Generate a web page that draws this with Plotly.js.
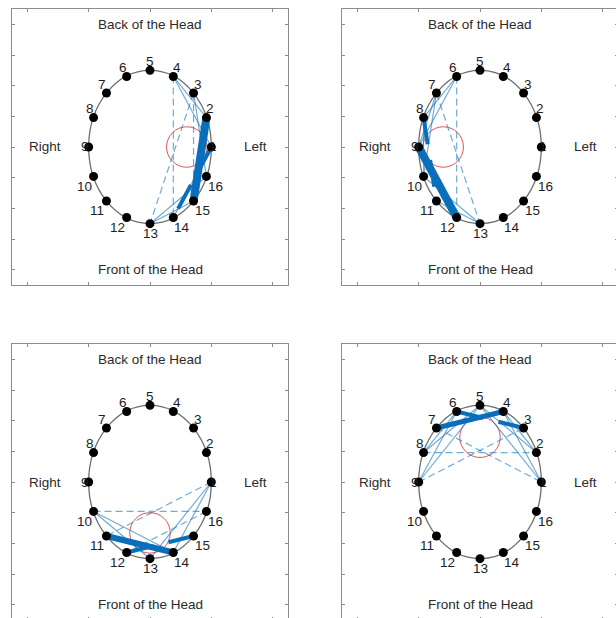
<!DOCTYPE html>
<html>
<head>
<meta charset="utf-8">
<script src="https://cdn.plot.ly/plotly-3.0.1.min.js"></script>
<style>
  html, body { margin: 0; padding: 0; overflow: hidden; background: #fff; }
  #chart { width: 624px; height: 624px; }
</style>
</head>
<body>
<div id="chart"></div>
<script>
// ---- electrode layout ----
const elecLabels = ['1','2','3','4','5','6','7','8','9','10','11','12','13','14','15','16'];
const elecX = [1.00, 0.92, 0.71, 0.38, 0.00, -0.38, -0.71, -0.92, -1.00, -0.92, -0.71, -0.38, 0.00, 0.38, 0.71, 0.92];
const elecY = [0.00, 0.48, 0.88, 1.15, 1.25, 1.15, 0.88, 0.48, 0.00, -0.48, -0.88, -1.15, -1.25, -1.15, -0.88, -0.48];

// ---- connections per panel: from, to, strength, sign (+ solid, - dashed) ----
const p1From   = [4, 4, 3, 13, 13, 14, 4, 3, 3, 1, 2];
const p1To     = [2, 1, 16, 15, 16, 1, 14, 13, 15, 14, 15];
const p1Weight = [1, 1, 1, 1, 1, 1, 1, 1, 1, 4, 8];
const p1Sign   = ['+','+','+','+','+','+','-','-','-','-','+'];

const p2From   = [6, 6, 7, 7, 8, 13, 13, 6, 7, 8, 9];
const p2To     = [8, 9, 9, 10, 10, 10, 11, 12, 13, 11, 12];
const p2Weight = [1, 1, 1, 1, 1, 1, 1, 1, 1, 4, 8];
const p2Sign   = ['+','+','+','+','+','+','+','-','-','-','+'];

const p3From   = [10, 10, 1, 1, 10, 1, 16, 11, 12];
const p3To     = [13, 14, 14, 13, 16, 11, 12, 14, 15];
const p3Weight = [1, 1, 1, 1, 1, 1, 1, 6, 4];
const p3Sign   = ['+','+','+','+','-','-','-','+','-'];

const p4From   = [6, 6, 5, 5, 4, 4, 5, 5, 9, 7, 8, 6, 7];
const p4To     = [9, 8, 9, 8, 1, 2, 1, 2, 3, 1, 2, 3, 4];
const p4Weight = [1, 1, 1, 1, 1, 1, 1, 1, 1, 1, 1, 4, 5];
const p4Sign   = ['+','+','+','+','+','+','+','+','-','-','-','-','+'];

// centre of the connections (red circle) per panel
const centerX = [0.60, -0.60, 0.00, 0.00];
const centerY = [0.00, 0.00, -0.83, 0.73];
const centerR = [0.33, 0.33, 0.33, 0.33];

// ---- text ----
const topText = 'Back of the Head';
const bottomText = 'Front of the Head';
const rightText = 'Right';
const leftText = 'Left';

const panels = [
  {from: p1From, to: p1To, w: p1Weight, s: p1Sign},
  {from: p2From, to: p2To, w: p2Weight, s: p2Sign},
  {from: p3From, to: p3To, w: p3Weight, s: p3Sign},
  {from: p4From, to: p4To, w: p4Weight, s: p4Sign}
];

const W = 624, H = 624;
const xDomains = [[12/W, 288/W], [342/W, 618/W], [12/W, 288/W], [342/W, 618/W]];
const yDomains = [[1-285/H, 1-9/H], [1-285/H, 1-9/H], [1-620/H, 1-344/H], [1-620/H, 1-344/H]];

const traces = [];
const shapes = [];
const annotations = [];
const layout = {
  width: W, height: H,
  margin: {l: 0, r: 0, t: 0, b: 0},
  paper_bgcolor: '#ffffff',
  plot_bgcolor: '#ffffff',
  showlegend: false,
  font: {family: 'Liberation Sans, Arial, sans-serif', color: '#2a2a2a'}
};

const axisBase = {
  range: [-2.25, 2.25],
  showgrid: false, zeroline: false, showticklabels: false,
  ticks: 'inside', ticklen: 3, tickcolor: '#8c8c8c', tickwidth: 1,
  showline: true, linecolor: '#8c8c8c', linewidth: 1, mirror: 'ticks',
  fixedrange: true
};

panels.forEach((p, i) => {
  const n = i + 1;
  const xa = n === 1 ? 'x' : 'x' + n;
  const ya = n === 1 ? 'y' : 'y' + n;
  layout[n === 1 ? 'xaxis' : 'xaxis' + n] = Object.assign({}, axisBase, {domain: xDomains[i], anchor: ya, tick0: 0, dtick: 1});
  layout[n === 1 ? 'yaxis' : 'yaxis' + n] = Object.assign({}, axisBase, {domain: yDomains[i], anchor: xa, tick0: 0, dtick: 0.5});

  // head outline
  shapes.push({type: 'circle', xref: xa, yref: ya, x0: -1, x1: 1, y0: -1.25, y1: 1.25,
               line: {color: '#6e6e6e', width: 1.3}, layer: 'below'});
  // red centre circle
  shapes.push({type: 'circle', xref: xa, yref: ya,
               x0: centerX[i] - centerR[i], x1: centerX[i] + centerR[i],
               y0: centerY[i] - centerR[i], y1: centerY[i] + centerR[i],
               line: {color: '#e05555', width: 1}, layer: 'below'});

  // connections (drawn in listed order)
  p.from.forEach((_, k) => {
    const a = p.from[k] - 1, b = p.to[k] - 1;
    const thick = p.w[k] > 2;
    const dashed = p.s[k] === '-';
    traces.push({
      type: 'scatter', mode: 'lines', xaxis: xa, yaxis: ya,
      x: [elecX[a], elecX[b]], y: [elecY[a], elecY[b]],
      line: {
        color: thick ? '#0a6fba' : 'rgba(20,115,185,0.6)',
        width: thick ? p.w[k] : 1.2,
        dash: dashed ? (thick ? '27px,16px' : '7px,4px') : 'solid'
      },
      hoverinfo: 'skip'
    });
  });

  // electrodes
  traces.push({
    type: 'scatter', mode: 'markers', xaxis: xa, yaxis: ya,
    x: elecX, y: elecY,
    marker: {color: '#000000', size: 9},
    hoverinfo: 'skip'
  });

  // electrode numbers
  elecLabels.forEach((lab, k) => {
    const ex = elecX[k], ey = elecY[k];
    const sx = Math.abs(ex) < 0.01 ? 0 : Math.sign(ex);
    let xs, ys;
    if (ey > 0.01) { xs = 4 * sx; ys = 9; }
    else if (ey < -0.01) { xs = 9 * sx; ys = -10; }
    else { xs = ex > 0 ? 2 : -4; ys = 0; }
    annotations.push({
      xref: xa, yref: ya, x: ex, y: ey, text: lab, showarrow: false,
      xshift: xs, yshift: ys, xanchor: 'center', yanchor: 'middle',
      font: {size: 13.5, color: '#1e1e1e', family: 'Liberation Sans, Arial, sans-serif'}
    });
  });

  // orientation labels
  const tf = {size: 13.5, color: '#2a2a2a', family: 'Liberation Sans, Arial, sans-serif'};
  annotations.push({xref: xa, yref: ya, x: 0, y: 2.0, text: topText, showarrow: false, xanchor: 'center', yanchor: 'middle', font: tf});
  annotations.push({xref: xa, yref: ya, x: 0, y: -2.0, text: bottomText, showarrow: false, xanchor: 'center', yanchor: 'middle', font: tf});
  annotations.push({xref: xa, yref: ya, x: -2.0, y: 0, text: rightText, showarrow: false, xanchor: 'left', yanchor: 'middle', font: tf});
  annotations.push({xref: xa, yref: ya, x: 1.5, y: 0, text: leftText, showarrow: false, xanchor: 'left', yanchor: 'middle', font: tf});
});

layout.shapes = shapes;
layout.annotations = annotations;

Plotly.newPlot('chart', traces, layout, {staticPlot: true, displayModeBar: false, responsive: false});
</script>
</body>
</html>
